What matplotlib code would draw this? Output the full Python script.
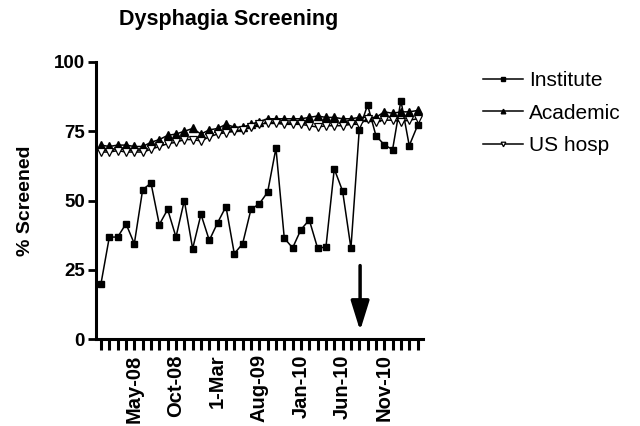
import matplotlib
matplotlib.use("Agg")
import matplotlib.pyplot as plt
import numpy as np

plt.rcParams['font.family'] = ['Liberation Sans', 'DejaVu Sans']

# Monthly data, Jan-08 .. Mar-11 (39 months)
institute = [20, 36.8, 36.8, 41.6, 34.4, 53.9, 56.3, 41.3, 46.8, 36.8,
             50, 32.6, 45, 35.6, 42, 47.8, 30.8, 34.4, 46.8, 48.8,
             53, 68.9, 36.4, 32.9, 39.5, 43, 32.8, 33.2, 61.4, 53.4,
             32.8, 75.6, 84.5, 73.4, 70.1, 68.4, 86.1, 69.8, 77.1]
academic = [70, 69.5, 70, 70, 69.5, 69.5, 71, 72, 73.5, 74,
            75, 76, 74, 75.5, 76, 77.5, 76.5, 76.5, 77.5, 78.5,
            79.5, 79.5, 79.5, 79.5, 79.5, 80, 80.5, 80, 80, 79.5,
            79.5, 80, 80, 80, 82, 81.5, 82, 82, 82.5]
us_hosp = [67.5, 67.5, 68, 67.5, 67.5, 67.5, 68.5, 69.5, 70.5, 71,
           72, 72, 71.5, 73, 74, 74.5, 75, 75.5, 76.5, 77.5,
           78, 78, 77.5, 77.5, 77.5, 77, 76.5, 77, 77, 77,
           77.5, 77.5, 79.5, 78.5, 79, 79, 78.5, 79, 79.5]
tick_labels = ['May-08', 'Oct-08', '1-Mar', 'Aug-09', 'Jan-10', 'Jun-10', 'Nov-10']
tick_start, tick_step = 4, 5
arrow_x, arrow_from, arrow_to = 31.1, 26.5, 3

x = np.arange(len(institute))

fig = plt.figure(figsize=(6.4, 4.26), dpi=100)
ax = fig.add_axes([96/640, 1-339/426, (423-96)/640, (339-62)/426])

lw = 1.1
ax.plot(x, institute, '-', color='black', lw=lw, marker='s', ms=4.5, mfc='black', mec='black', label='Institute')
ax.plot(x, academic, '-', color='black', lw=lw, marker='^', ms=5.5, mfc='black', mec='black', label='Academic')
ax.plot(x, us_hosp, '-', color='black', lw=lw, marker='v', ms=5.5, mfc='white', mec='black', mew=0.9, label='US hosp')

ax.annotate('', xy=(arrow_x, arrow_to), xytext=(arrow_x, arrow_from),
            arrowprops=dict(arrowstyle='-|>,head_length=0.9,head_width=0.28',
                            lw=2.5, color='black', mutation_scale=20, shrinkA=0, shrinkB=0))

ax.set_ylim(0, 100)
ax.set_xlim(-0.6, 38.65)
ax.set_yticks([0, 25, 50, 75, 100])
ax.set_yticklabels(['0', '25', '50', '75', '100'], fontsize=13.5, fontweight='bold')
major = [tick_start + tick_step * i for i in range(len(tick_labels))]
ax.set_xticks(major)
ax.set_xticklabels(tick_labels, rotation=90, fontsize=14.5, fontweight='bold')
ax.set_xticks(x, minor=True)
ax.tick_params(axis='x', which='both', length=8, width=2.2, direction='out', pad=3)
ax.tick_params(axis='y', length=6, width=2, direction='out', pad=2)

for s in ['top', 'right']:
    ax.spines[s].set_visible(False)
for s in ['left', 'bottom']:
    ax.spines[s].set_linewidth(2.2)

ax.set_ylabel('% Screened', fontsize=14, fontweight='bold', labelpad=14)

fig.text(229/640, 1-20/426, 'Dysphagia Screening', ha='center', va='center',
         fontsize=15.5, fontweight='bold')

leg = fig.legend(loc='upper left', bbox_to_anchor=(483/640, 1-71/426), frameon=False,
                 fontsize=15, handlelength=1.9, handletextpad=0.3, labelspacing=0.65,
                 borderpad=0, borderaxespad=0, markerscale=0.6)

fig.savefig('out.png', dpi=100)
